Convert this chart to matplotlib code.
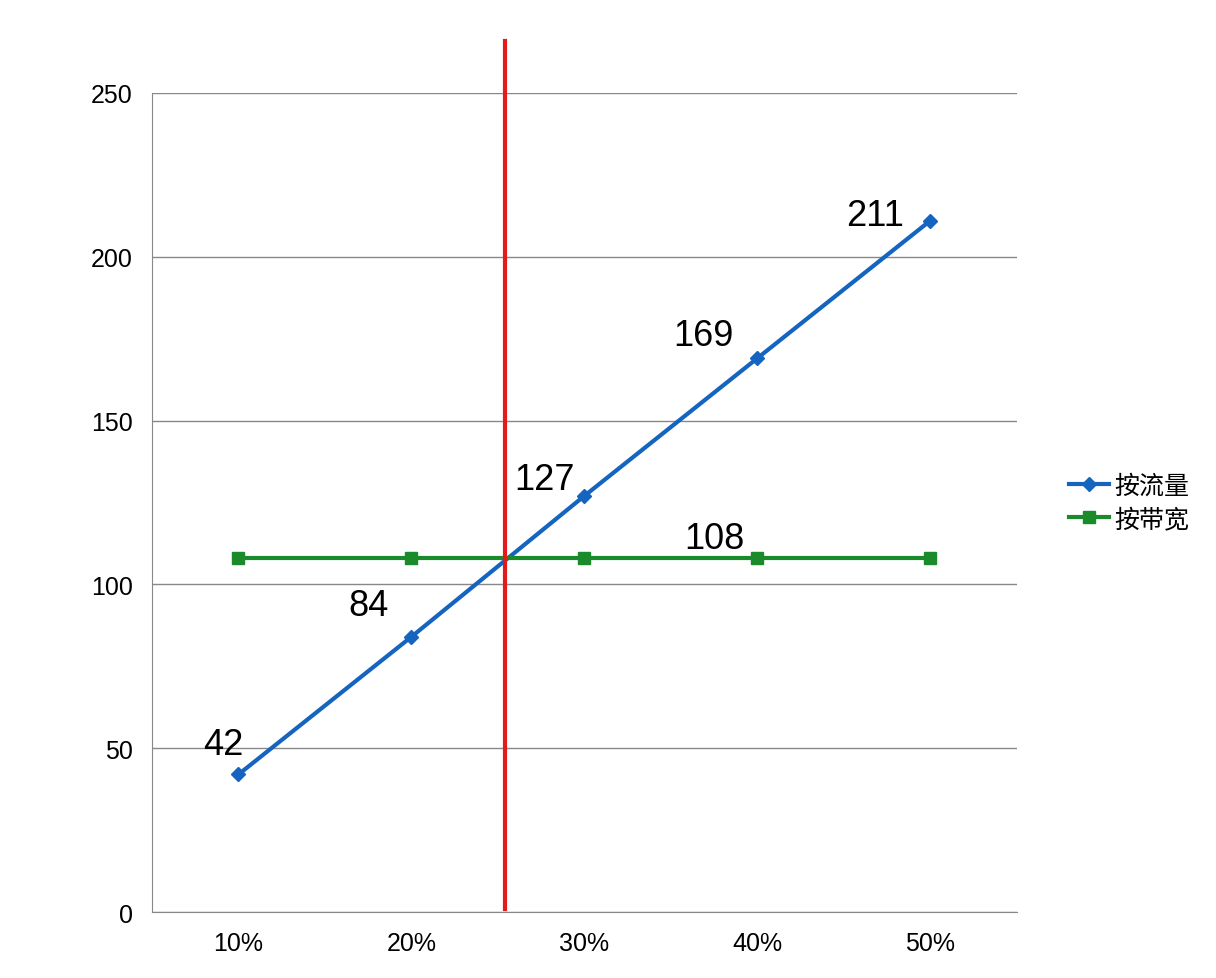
import matplotlib
matplotlib.use("Agg")
import matplotlib.pyplot as plt

plt.rcParams['font.family'] = ['Liberation Sans', 'Noto Sans CJK SC', 'DejaVu Sans']

cats = ["10%", "20%", "30%", "40%", "50%"]
flow = [42, 84, 127, 169, 211]
bw = [108, 108, 108, 108, 108]
cross_x = 1.54
labels = ["42", "84", "127", "169", "211"]

fig = plt.figure(figsize=(12.16, 9.79), dpi=100)
ax = fig.add_axes([0.125, 0.0674, 0.711, 0.8366])
x = list(range(len(cats)))
ax.plot(x, flow, color="#1565c0", lw=3, marker="D", ms=7, label="按流量")
ax.plot(x, bw, color="#1a8a2a", lw=3, marker="s", ms=9, label="按带宽")
ax.plot([cross_x, cross_x], [1, 266], color="#e31a1a", lw=3, clip_on=False, zorder=5)

offs = [(-0.09, 9), (-0.25, 9.5), (-0.23, 5), (-0.31, 7), (-0.32, 1.5)]
for i, (v, t) in enumerate(zip(flow, labels)):
    ax.text(i + offs[i][0], v + offs[i][1], t, fontsize=26, ha="center", va="center")
ax.text(2.75, 114, "108", fontsize=26, ha="center", va="center")

ax.set_xlim(-0.5, 4.5)
ax.set_ylim(0, 250)
ax.set_yticks([0, 50, 100, 150, 200, 250])
ax.set_xticks(x)
ax.set_xticklabels(cats)
ax.tick_params(labelsize=18, length=0, pad=14)
ax.yaxis.grid(True, color="#888888", lw=1)
for s in ["top", "right"]:
    ax.spines[s].set_visible(False)
ax.spines["left"].set_color("#888888")
ax.spines["bottom"].set_color("#888888")
leg = ax.legend(loc="center left", bbox_to_anchor=(1.035, 0.5), frameon=False,
                handlelength=1.6, handletextpad=0.2,
                prop={'family': ['Noto Sans CJK SC'], 'size': 18}, labelspacing=0.3)
fig.savefig("out.png")
